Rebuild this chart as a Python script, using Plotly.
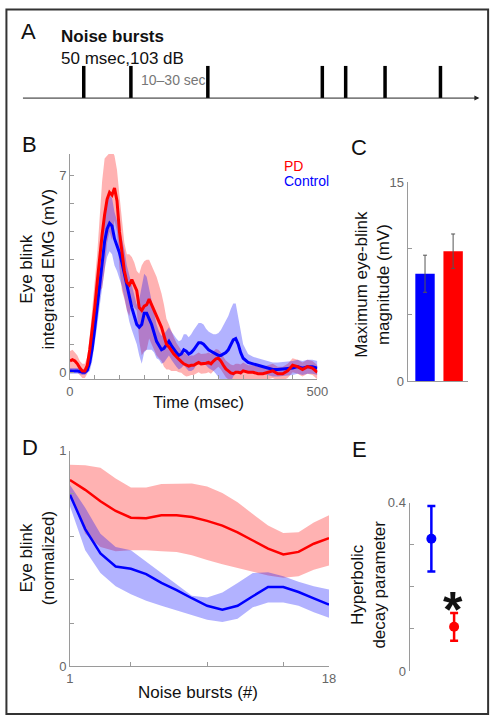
import plotly.graph_objects as go

W, H = 503, 726
FONT = "Liberation Sans, Arial, sans-serif"

# ---------------- Panel A data ----------------
burst_times = [13.6, 23.9, 40.7, 65.7, 70.8, 79.4, 91.5]   # arbitrary timeline units

# ---------------- Panel B data ----------------
time_ms = [0, 5, 10, 15, 20, 25, 30, 35, 40, 45, 50, 55, 60, 65, 70, 75, 80, 85, 90, 95,
           100, 105, 110, 115, 120, 125, 130, 135, 140, 145, 150, 155, 160, 165, 170, 175,
           180, 185, 190, 195, 200, 205, 210, 215, 220, 225, 230, 235, 240, 245, 250, 255,
           260, 265, 270, 275, 280, 285, 290, 295, 300, 305, 310, 315, 320, 325, 330, 335,
           340, 345, 350, 360, 370, 380, 390, 400, 410, 420, 430, 440, 450, 460, 470, 480,
           490, 500]
pd_emg = [0.40, 0.45, 0.40, 0.30, 0.15, 0.05, 0.05, 0.25, 0.80, 1.50, 2.30, 3.20, 4.20, 4.90,
          5.60, 6.15, 6.40, 6.30, 6.55, 6.10, 5.00, 4.20, 3.60, 3.20, 3.10, 3.30, 3.10, 2.90,
          2.30, 2.20, 2.35, 2.40, 2.60, 2.40, 2.20, 2.00, 1.80, 1.60, 1.30, 1.00, 0.90, 0.75,
          0.65, 0.55, 0.45, 0.38, 0.30, 0.25, 0.22, 0.25, 0.25, 0.30, 0.35, 0.30, 0.30, 0.32,
          0.35, 0.30, 0.40, 0.48, 0.50, 0.40, 0.25, 0.12, 0.05, -0.02, -0.05, 0.00, 0.00, -0.02,
          0.05, 0.00, 0.00, -0.05, -0.05, 0.00, 0.05, -0.05, -0.05, 0.05, 0.25, 0.20, 0.10, 0.20,
          0.15, 0.00]
pd_sem = [0.35, 0.35, 0.30, 0.30, 0.25, 0.25, 0.25, 0.30, 0.50, 0.70, 0.90, 1.00, 1.30, 1.90,
          2.00, 1.55, 1.40, 1.60, 1.15, 1.10, 1.30, 1.30, 1.00, 1.00, 1.10, 0.80, 0.80, 0.70,
          1.20, 1.60, 1.60, 1.60, 1.40, 1.40, 1.40, 1.40, 1.30, 1.20, 1.10, 0.90, 0.80, 0.70,
          0.60, 0.50, 0.45, 0.40, 0.40, 0.40, 0.35, 0.35, 0.35, 0.35, 0.35, 0.35, 0.35, 0.35,
          0.35, 0.35, 0.35, 0.35, 0.30, 0.30, 0.30, 0.30, 0.30, 0.30, 0.30, 0.30, 0.30, 0.30,
          0.30, 0.25, 0.25, 0.25, 0.25, 0.25, 0.25, 0.25, 0.25, 0.25, 0.25, 0.25, 0.25, 0.25,
          0.25, 0.25]
ctrl_emg = [0.05, 0.05, 0.06, 0.05, 0.03, 0.00, 0.00, 0.08, 0.35, 0.85, 1.55, 2.35, 3.15, 3.95,
            4.65, 5.10, 5.30, 5.20, 4.75, 4.50, 4.25, 3.90, 3.50, 3.00, 2.60, 2.30, 2.00, 1.70,
            1.60, 1.70, 2.10, 2.10, 1.90, 1.70, 1.40, 1.10, 0.95, 0.80, 0.85, 1.00, 1.10, 0.95,
            0.80, 0.70, 0.60, 0.65, 0.80, 0.75, 0.65, 0.70, 0.80, 0.95, 1.05, 1.05, 1.00, 0.90,
            0.80, 0.75, 0.70, 0.65, 0.60, 0.60, 0.65, 0.70, 0.80, 0.95, 1.15, 1.20, 1.00, 0.70,
            0.50, 0.35, 0.30, 0.25, 0.20, 0.15, 0.10, 0.10, 0.12, 0.15, 0.15, 0.20, 0.15, 0.20,
            0.20, 0.15]
ctrl_sem = [0.10, 0.10, 0.10, 0.10, 0.10, 0.10, 0.10, 0.10, 0.30, 0.45, 0.60, 0.70, 0.80, 0.90,
            1.00, 1.00, 1.00, 1.00, 0.95, 0.90, 0.90, 0.85, 0.85, 0.80, 0.80, 0.80, 0.75, 0.70,
            1.00, 1.40, 1.40, 1.30, 1.10, 0.90, 0.70, 0.60, 0.50, 0.50, 0.50, 0.50, 0.50, 0.50,
            0.50, 0.50, 0.50, 0.50, 0.55, 0.60, 0.60, 0.65, 0.70, 0.70, 0.70, 0.70, 0.70, 0.65,
            0.65, 0.65, 0.65, 0.70, 0.80, 0.90, 1.00, 1.10, 1.20, 1.30, 1.30, 1.25, 1.00, 0.80,
            0.50, 0.30, 0.25, 0.25, 0.25, 0.25, 0.25, 0.25, 0.25, 0.25, 0.25, 0.25, 0.25, 0.25,
            0.25, 0.25]

# ---------------- Panel C data ----------------
c_groups = ["Control", "PD"]
c_max_blink = [8.1, 9.8]
c_err = [1.4, 1.3]

# ---------------- Panel D data ----------------
bursts = list(range(1, 19))
pd_norm = [0.864, 0.818, 0.765, 0.720, 0.689, 0.686, 0.700, 0.700, 0.692, 0.674, 0.652,
           0.621, 0.583, 0.545, 0.518, 0.530, 0.568, 0.594]
pd_norm_hi = [0.935, 0.932, 0.921, 0.871, 0.829, 0.829, 0.845, 0.848, 0.848, 0.833, 0.803,
              0.760, 0.705, 0.652, 0.618, 0.621, 0.667, 0.700]
pd_norm_lo = [0.800, 0.614, 0.553, 0.533, 0.538, 0.538, 0.533, 0.530, 0.515, 0.492, 0.473,
              0.455, 0.436, 0.420, 0.410, 0.417, 0.447, 0.467]
ctrl_norm = [0.795, 0.636, 0.523, 0.462, 0.452, 0.427, 0.386, 0.353, 0.315, 0.280, 0.262,
             0.280, 0.324, 0.367, 0.367, 0.344, 0.314, 0.285]
ctrl_norm_hi = [0.840, 0.735, 0.614, 0.553, 0.538, 0.485, 0.432, 0.379, 0.326, 0.318, 0.341,
                0.386, 0.432, 0.435, 0.417, 0.391, 0.371, 0.356]
ctrl_norm_lo = [0.742, 0.538, 0.432, 0.371, 0.333, 0.303, 0.280, 0.258, 0.235, 0.215, 0.205,
                0.220, 0.273, 0.295, 0.295, 0.280, 0.250, 0.224]

# ---------------- Panel E data ----------------
e_groups = ["Control", "PD"]
e_decay = [0.314, 0.105]
e_err = [0.078, 0.033]

RED = "#ff0000"
BLUE = "#0000ff"
RED_BAND = "rgba(255,0,0,0.30)"
BLUE_BAND = "rgba(0,0,255,0.30)"
AX = "#9a9a9a"
TICKF = dict(family=FONT, size=13, color="#666666")

fig = go.Figure()

# ---- Panel B ----
pd_hi = [m + s for m, s in zip(pd_emg, pd_sem)]
pd_lo = [m - s for m, s in zip(pd_emg, pd_sem)]
ct_hi = [m + s for m, s in zip(ctrl_emg, ctrl_sem)]
ct_lo = [m - s for m, s in zip(ctrl_emg, ctrl_sem)]
fig.add_trace(go.Scatter(x=time_ms, y=pd_hi, mode="lines", line=dict(width=0), xaxis="x", yaxis="y", showlegend=False, hoverinfo="skip"))
fig.add_trace(go.Scatter(x=time_ms, y=pd_lo, mode="lines", line=dict(width=0), fill="tonexty", fillcolor=RED_BAND, xaxis="x", yaxis="y", showlegend=False, hoverinfo="skip"))
fig.add_trace(go.Scatter(x=time_ms, y=ct_hi, mode="lines", line=dict(width=0), xaxis="x", yaxis="y", showlegend=False, hoverinfo="skip"))
fig.add_trace(go.Scatter(x=time_ms, y=ct_lo, mode="lines", line=dict(width=0), fill="tonexty", fillcolor=BLUE_BAND, xaxis="x", yaxis="y", showlegend=False, hoverinfo="skip"))
fig.add_trace(go.Scatter(x=time_ms, y=ctrl_emg, mode="lines", line=dict(color=BLUE, width=3), xaxis="x", yaxis="y", showlegend=False))
fig.add_trace(go.Scatter(x=time_ms, y=pd_emg, mode="lines", line=dict(color=RED, width=3), xaxis="x", yaxis="y", showlegend=False))

# ---- Panel C ----
fig.add_trace(go.Bar(x=[1, 2], y=c_max_blink, width=0.69, marker=dict(color=[BLUE, RED], line=dict(width=0)),
                     error_y=dict(type="data", array=c_err, color="#555555", thickness=1, width=2),
                     xaxis="x2", yaxis="y2", showlegend=False, hovertext=c_groups))

# ---- Panel D ----
fig.add_trace(go.Scatter(x=bursts, y=pd_norm_hi, mode="lines", line=dict(width=0), xaxis="x3", yaxis="y3", showlegend=False, hoverinfo="skip"))
fig.add_trace(go.Scatter(x=bursts, y=pd_norm_lo, mode="lines", line=dict(width=0), fill="tonexty", fillcolor=RED_BAND, xaxis="x3", yaxis="y3", showlegend=False, hoverinfo="skip"))
fig.add_trace(go.Scatter(x=bursts, y=ctrl_norm_hi, mode="lines", line=dict(width=0), xaxis="x3", yaxis="y3", showlegend=False, hoverinfo="skip"))
fig.add_trace(go.Scatter(x=bursts, y=ctrl_norm_lo, mode="lines", line=dict(width=0), fill="tonexty", fillcolor=BLUE_BAND, xaxis="x3", yaxis="y3", showlegend=False, hoverinfo="skip"))
fig.add_trace(go.Scatter(x=bursts, y=pd_norm, mode="lines", line=dict(color=RED, width=2.5), xaxis="x3", yaxis="y3", showlegend=False))
fig.add_trace(go.Scatter(x=bursts, y=ctrl_norm, mode="lines", line=dict(color=BLUE, width=2.5), xaxis="x3", yaxis="y3", showlegend=False))

# ---- Panel E ----
for i, col in enumerate([BLUE, RED]):
    fig.add_trace(go.Scatter(x=[i + 1], y=[e_decay[i]], mode="markers", marker=dict(color=col, size=10),
                             error_y=dict(type="data", array=[e_err[i]], color=col, thickness=2.5, width=4),
                             xaxis="x4", yaxis="y4", showlegend=False, hovertext=[e_groups[i]]))

# ---- Panel A ----
bx, by = [], []
for b in burst_times:
    bx += [b, b, None]
    by += [0, 1, None]
fig.add_trace(go.Scatter(x=bx, y=by, mode="lines", line=dict(color="#000000", width=3.5),
                         xaxis="x5", yaxis="y5", showlegend=False, hoverinfo="skip"))


def px_x(p):
    return p / W


def px_y(p):
    return 1 - p / H


def axis_common():
    return dict(showline=True, linecolor=AX, linewidth=1, ticks="inside", ticklen=4, tickcolor=AX,
                tickwidth=1, showgrid=False, zeroline=False, tickfont=TICKF, fixedrange=True)


layout = dict(
    width=W, height=H, margin=dict(l=0, r=0, t=0, b=0),
    paper_bgcolor="white", plot_bgcolor="rgba(0,0,0,0)",
    font=dict(family=FONT, color="#111111"),
    showlegend=False,
    xaxis=dict(domain=[px_x(68), px_x(323)], range=[0, 500], anchor="y",
               tickvals=list(range(0, 501, 50)), ticktext=["0"] + [""] * 9 + ["500"], **axis_common()),
    yaxis=dict(domain=[px_y(380), px_y(150)], range=[-0.244, 7.766], anchor="x",
               tickvals=list(range(0, 8)), ticktext=["0"] + [""] * 6 + ["7"], **axis_common()),
    xaxis2=dict(domain=[px_x(416), px_x(478)], range=[0.38, 2.52], anchor="y2",
                showline=True, linecolor=AX, linewidth=1, ticks="", showticklabels=False,
                showgrid=False, zeroline=False, fixedrange=True),
    yaxis2=dict(domain=[px_y(382), px_y(179)], range=[0, 15], anchor="x2",
                tickvals=[0, 5, 10, 15], ticktext=["0", "", "", "15"], **axis_common()),
    xaxis3=dict(domain=[px_x(68), px_x(335)], range=[1, 18], anchor="y3",
                tickvals=[1, 5, 10, 15, 18], ticktext=["1", "", "", "", "18"], **axis_common()),
    yaxis3=dict(domain=[px_y(673), px_y(453)], range=[0, 1], anchor="x3",
                tickvals=[0, 0.2, 0.4, 0.6, 0.8, 1.0], ticktext=["0", "", "", "", "", "1"], **axis_common()),
    xaxis4=dict(domain=[px_x(418), px_x(478)], range=[0.04, 2.6], anchor="y4", visible=False, fixedrange=True),
    yaxis4=dict(domain=[px_y(678), px_y(506)], range=[0, 0.4], anchor="x4",
                tickvals=[0, 0.1, 0.2, 0.3, 0.4], ticktext=["0", "", "", "", "0.4"], **axis_common()),
    xaxis5=dict(domain=[px_x(18), px_x(490)], range=[0, 100], anchor="y5", visible=False, fixedrange=True),
    yaxis5=dict(domain=[px_y(93), px_y(60)], range=[0, 1], anchor="x5", visible=False, fixedrange=True),
)
fig.update_layout(**layout)

anns = []


def txt(text, x, y, size=17, color="#111111", xanchor="left", angle=0, align="center"):
    anns.append(dict(text=text, x=px_x(x), y=px_y(y), xref="paper", yref="paper", showarrow=False,
                     xanchor=xanchor, yanchor="middle", textangle=angle, align=align,
                     font=dict(family=FONT, size=size, color=color)))


txt("A", 15, 25, size=22)
txt("<b>Noise bursts</b><br>50 msec,103 dB", 57, 41, size=17, align="left")
txt("10–30 sec", 175, 75, size=14, color="#777777", xanchor="center")
txt("B", 16, 140, size=22)
txt("C", 356, 143, size=22)
txt("D", 16, 450, size=22)
txt("E", 357, 452, size=22)
txt("PD", 287, 162, size=14, color=RED)
txt("Control", 287, 178, size=14, color=BLUE)
txt("Eye blink<br>integrated EMG (mV)", 34, 267, size=17, xanchor="center", angle=-90)
txt("Time (msec)", 200, 403, size=16.5, xanchor="center")
txt("Maximum eye-blink<br>magnitude (mV)", 379, 283, size=17, xanchor="center", angle=-90)
txt("Eye blink<br>(normalized)", 34, 563, size=17, xanchor="center", angle=-90)
txt("Noise bursts (#)", 200, 700, size=17, xanchor="center")
txt("Hyperbolic<br>decay parameter", 376, 590, size=17, xanchor="center", angle=-90)
txt("<b>*</b>", 463, 616, size=50, xanchor="center")

# timeline arrow for panel A
anns.append(dict(x=100, y=0, ax=0, ay=0, xref="x5", yref="y5", axref="x5", ayref="y5",
                 showarrow=True, arrowhead=2, arrowsize=1, arrowwidth=1, arrowcolor="#222222", text=""))

fig.update_layout(annotations=anns)

fig.add_shape(type="rect", xref="paper", yref="paper", x0=px_x(2.5), x1=px_x(499), y0=px_y(722), y1=px_y(2.5),
              line=dict(color="#333333", width=2), fillcolor="rgba(0,0,0,0)", layer="above")

fig.write_html("out.html", config={"displayModeBar": False, "staticPlot": True},
               post_script="document.body.style.margin='0';")
